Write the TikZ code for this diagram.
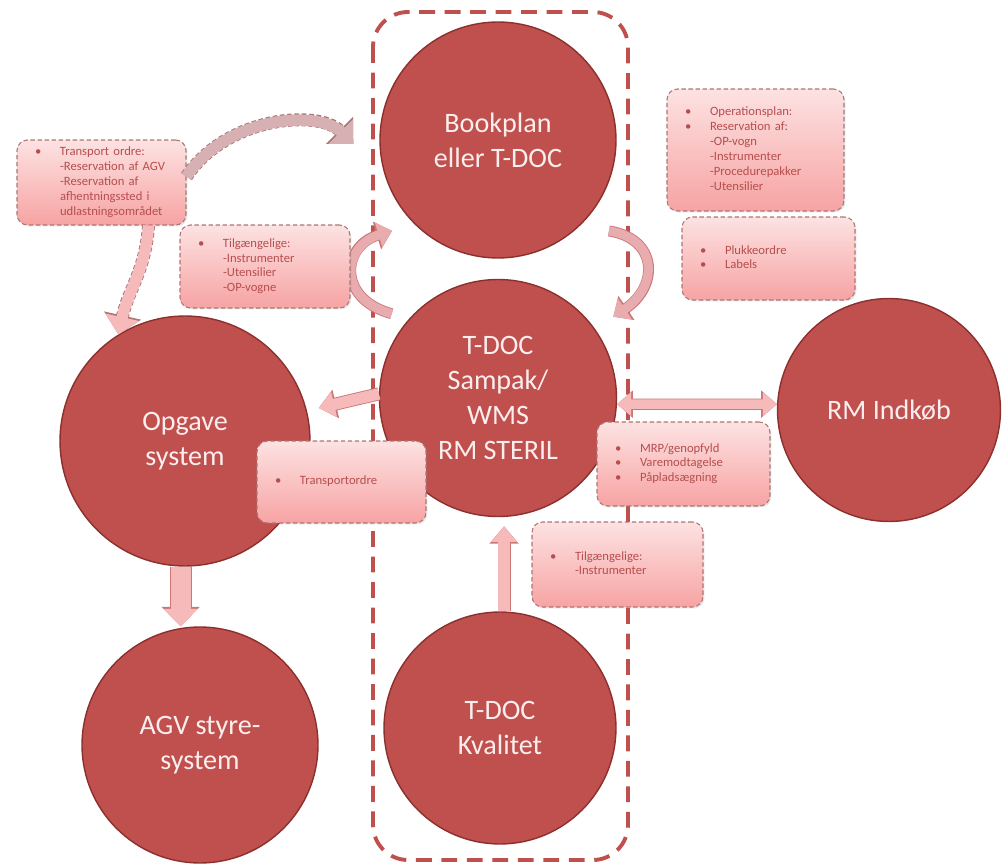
\documentclass[tikz,border=0pt]{standalone}
\usepackage{fontspec}
\setmainfont{Carlito}
\usetikzlibrary{arrows.meta,shadows}
\definecolor{sterred}{RGB}{192,80,77}
\definecolor{sterdark}{RGB}{140,48,46}
\definecolor{sterwhite}{RGB}{252,238,238}
\definecolor{sterboxtop}{RGB}{253,226,226}
\definecolor{sterboxbottom}{RGB}{247,163,163}
\definecolor{sterboxline}{RGB}{172,118,118}
\definecolor{stertext}{RGB}{183,78,78}
\definecolor{sterarrow}{RGB}{247,186,186}
\definecolor{sterarrowline}{RGB}{204,118,118}
\definecolor{stergrey}{RGB}{214,176,178}
\definecolor{sterrose}{RGB}{232,172,175}

\tikzset{
  system/.style={circle, draw=sterdark, line width=0.8pt, fill=sterred,
    text=sterwhite, align=center, inner sep=0pt,
    font=\fontsize{16}{20}\selectfont},
  note/.style={rectangle, rounded corners=6pt, draw=sterboxline,
    dash pattern=on 2.5pt off 1.5pt, line width=0.6pt,
    top color=sterboxtop, bottom color=sterboxbottom, text=stertext,
    font=\fontsize{7.2}{8.5}\selectfont, align=left,
    inner xsep=0.36cm, inner ysep=0pt,
    drop shadow={opacity=0.2, shadow xshift=0.8pt, shadow yshift=-0.8pt}},
  sterframe/.style={draw=sterred, line width=2.2pt, rounded corners=20pt,
    dash pattern=on 9pt off 5.5pt},
  fatarrow/.style={draw=sterarrow, line width=6.4pt, -{Triangle[length=9pt,width=14pt]},
    preaction={draw=sterarrowline, line width=7.4pt, -{Triangle[length=10pt,width=16pt]}}},
  bothways/.style={draw=sterarrow, line width=5.4pt,
    {Triangle[length=8pt,width=13pt]}-{Triangle[length=8pt,width=13pt]},
    preaction={draw=sterarrowline, line width=6.4pt,
      {Triangle[length=9pt,width=15pt]}-{Triangle[length=9pt,width=15pt]}}},
  widearrow/.style={draw=sterarrow, line width=11.5pt, -{Triangle[length=10pt,width=19pt]},
    preaction={draw=sterarrowline, line width=12.5pt, -{Triangle[length=11pt,width=21pt]}}},
  bendarrow/.style={draw=#1, line width=5.2pt, -{Triangle[length=8pt,width=14pt]},
    preaction={draw=sterarrowline, line width=6.2pt, -{Triangle[length=9pt,width=16pt]}}},
  loosearrow/.style={draw=#1, line width=6.4pt, -{Triangle[length=10pt,width=19pt]},
    preaction={draw=sterboxline, line width=7.4pt, dash pattern=on 2.5pt off 1.5pt,
      -{Triangle[length=11pt,width=21pt]}}},
}

\begin{document}
\begin{tikzpicture}[x=0.02cm, y=-0.02cm]
\useasboundingbox (0,0) rectangle (1002,865);

\draw[sterframe] (373,12) rectangle (628,860);

\node[system, minimum size=4.72cm] (bookplan) at (498,140) {Bookplan\\eller T-DOC};
\node[system, minimum size=4.74cm] (sampak) at (498,398) {T-DOC\\Sampak/\\WMS\\RM STERIL};
\node[system, minimum size=5cm] (opgave) at (185,441) {Opgave\\system};
\node[system, minimum size=4.72cm] (agv) at (200,745) {AGV styre-\\system};
\node[system, minimum size=4.46cm] (indkob) at (889,410) {RM Indkøb};
\node[system, minimum size=4.64cm] (kvalitet) at (500,728) {T-DOC\\Kvalitet};

\draw[fatarrow] (sampak.178) -- ([shift={(8,-33)}]opgave.east);
\draw[bothways] (sampak.-3) -- (indkob.177);
\draw[widearrow] (opgave.-92) -- (opgave.-92 |- agv.north);
\draw[fatarrow, shorten >=0.18cm] (kvalitet.88) -- (kvalitet.88 |- sampak.south);

\draw[bendarrow=sterrose] ([shift={(-22,0)}]sampak.north west)
  .. controls +(-55,-15) and +(-50,15) .. ([shift={(-22,7)}]bookplan.south west);
\draw[bendarrow=sterrose] ([shift={(27,7)}]bookplan.south east)
  .. controls +(50,8) and +(45,-30) .. ([shift={(31,3)}]sampak.north east);

\node[note, minimum width=3.38cm, minimum height=1.7cm, text width=2.66cm] (transp) at (101.5,182.5) {%
  \begin{tabular}{@{}p{0.5cm}@{}l@{}}
  \textbullet & Transport ordre:\\
  & -Reservation af AGV\\
  & -Reservation af\\
  & afhentningssted i\\
  & udlastningsområdet
  \end{tabular}};

\draw[loosearrow=stergrey] ([shift={(0,-6)}]transp.east)
  .. controls +(40,-60) and +(-35,-35) .. ([shift={(-26,4)}]bookplan.west);
\draw[loosearrow=sterarrow] ([shift={(47,0)}]transp.south)
  .. controls +(-3,45) and +(10,-45) .. (opgave.122);

\node[note, minimum width=3.4cm, minimum height=1.66cm, text width=2.68cm] (tilgang) at (265,266.5) {%
  \begin{tabular}{@{}p{0.5cm}@{}l@{}}
  \textbullet & Tilgængelige:\\
  & -Instrumenter\\
  & -Utensilier\\
  & -OP-vogne
  \end{tabular}};

\node[note, minimum width=3.54cm, minimum height=2.44cm, text width=2.82cm] (opplan) at (755.5,150) {%
  \begin{tabular}{@{}p{0.5cm}@{}l@{}}
  \textbullet & Operationsplan:\\
  \textbullet & Reservation af:\\
  & -OP-vogn\\
  & -Instrumenter\\
  & -Procedurepakker\\
  & -Utensilier
  \end{tabular}};

\node[note, minimum width=3.46cm, minimum height=1.66cm, text width=2.74cm] (pluk) at (768.5,258.5) {%
  \begin{tabular}{@{}p{0.5cm}@{}l@{}}
  \textbullet & Plukkeordre\\
  \textbullet & Labels
  \end{tabular}};

\node[note, minimum width=3.38cm, minimum height=1.64cm, text width=2.66cm] (ordre) at (341.5,482) {%
  \begin{tabular}{@{}p{0.5cm}@{}l@{}}
  \textbullet & Transportordre
  \end{tabular}};

\node[note, minimum width=3.46cm, minimum height=1.68cm, text width=2.74cm] (mrp) at (683.5,464) {%
  \begin{tabular}{@{}p{0.5cm}@{}l@{}}
  \textbullet & MRP/genopfyld\\
  \textbullet & Varemodtagelse\\
  \textbullet & Påpladsægning
  \end{tabular}};

\node[note, minimum width=3.42cm, minimum height=1.7cm, text width=2.7cm] (instr) at (617.5,564.5) {%
  \begin{tabular}{@{}p{0.5cm}@{}l@{}}
  \textbullet & Tilgængelige:\\
  & -Instrumenter
  \end{tabular}};
\end{tikzpicture}
\end{document}
